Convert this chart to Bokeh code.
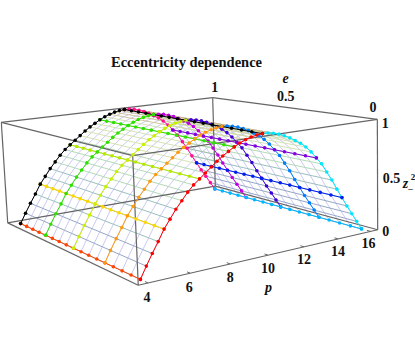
import numpy as np
from bokeh.plotting import figure
from bokeh.models import Range1d
from bokeh.core.properties import value
from bokeh.embed import file_html
from bokeh.resources import INLINE

title = "Eccentricity dependence"
p_ticks = [4, 6, 8, 10, 12, 14, 16]
e_ticks = [1, 0.5, 0]
e_tick_labels = ["1", "0.5", "0"]
z_ticks = [1, 0.5, 0]
z_tick_labels = ["1", "0.5", "0"]

# surface height read along p (41 samples from p=4 to p=16), nearly independent of e
p_samples = [4 + 0.3 * k for k in range(41)]
e_samples = [k / 16 for k in range(17)]
z_profile = [0, .095, .185, .27, .36, .43, .50, .56, .62, .67, .71, .75, .79, .83, .865, .895, .925, .95, .97, .985, .995, 1,
             .998, .99, .975, .955, .93, .90, .87, .83, .78, .72, .66, .58, .50, .41, .325, .24, .16, .08, 0]

p_line_values = [4, 5.2, 7, 8.8, 10.3, 13.3, 14.8, 16]
p_line_colors = ["#ff4500", "#ffd700", "#b4ea00", "#30e000", "#000000", "#8000e0", "#0020f0", "#00b8ff"]
e_line_values = [0, 0.25, 0.5, 0.75, 1]
e_near_colors = ["#ff0000", "#ff9a10", "#c8f000", "#30e000", "#000000"]
e_far_colors = ["#00e8ff", "#0080ff", "#4000d8", "#c000e0", "#ff1090"]
peak_p = 10.3

# perspective camera: box bounds and where the eight corners land on the page
p_box = (3.55, 16.45)
e_box = (-0.05, 1.05)
z_box = (0, 1)
box_world = [(0, 0, 0), (1, 0, 0), (0, 1, 0), (1, 1, 0), (0, 0, 1), (1, 0, 1), (0, 1, 1), (1, 1, 1)]
box_page = [(138, 285), (377, 229), (7, 222), (215, 186), (132, 155), (377, 119), (1, 122), (212, 97)]


def camera():
    rows = []
    for (a, b, c), (u, v) in zip(box_world, box_page):
        X = [p_box[a], e_box[b], z_box[c], 1]
        rows.append(X + [0, 0, 0, 0] + [-u * x for x in X])
        rows.append([0, 0, 0, 0] + X + [-v * x for x in X])
    return np.linalg.svd(np.array(rows, float))[2][-1].reshape(3, 4)


CAM = camera()


def project(ps, es, zs):
    q = CAM @ np.vstack([ps, es, zs, np.ones(len(ps))])
    return (q[0] / q[2]).tolist(), (q[1] / q[2]).tolist()


p_arr = np.array(p_samples)
e_arr = np.array(e_samples)
z_arr = np.array(z_profile, float)

fig = figure(width=415, height=357, x_range=Range1d(0, 415), y_range=Range1d(357, 0),
             toolbar_location=None, output_backend="svg", min_border=0)
fig.axis.visible = False
fig.grid.visible = False
fig.outline_line_color = None
fig.background_fill_color = "white"

# mesh
mesh_heights = [0.25, 0.5, 0.75, 0.95, 2]
mesh_colors = ["#8a9cc0", "#8fb7b8", "#a9d6ae", "#cfe0a8", "#cdbf90"]
xs, ys, cs = [], [], []
for e in e_arr:
    x, y = project(p_arr, np.full(41, e), z_arr)
    xs.append(x); ys.append(y); cs.append("#c4c4f2")
fig.multi_line(xs, ys, line_color=cs, line_width=0.9)
xs, ys, cs = [], [], []
for i, pv in enumerate(p_arr):
    x, y = project(np.full(17, pv), e_arr, np.full(17, z_arr[i]))
    xs.append(x); ys.append(y)
    cs.append(mesh_colors[next(j for j, h in enumerate(mesh_heights) if z_arr[i] <= h)])
fig.multi_line(xs, ys, line_color=cs, line_width=0.9)

# box
edges = [(0, 1), (0, 2), (1, 3), (2, 3), (4, 5), (4, 6), (5, 7), (6, 7), (0, 4), (1, 5), (2, 6), (3, 7)]
for a, b in edges:
    wa, wb = box_world[a], box_world[b]
    x, y = project(np.array([p_box[wa[0]], p_box[wb[0]]]), np.array([e_box[wa[1]], e_box[wb[1]]]),
                   np.array([z_box[wa[2]], z_box[wb[2]]]))
    fig.line(x, y, line_color="#666666", line_width=1.2)

# axis ticks
for t in p_ticks:
    x, y = project(np.array([t, t]), np.array([e_box[0], e_box[0] + 0.02]), np.array([z_box[0], z_box[0]]))
    fig.line(x, y, line_color="#666666", line_width=1)


def curve(ps, es, zs, color, lw=1.0, size=3.6):
    x, y = project(np.array(ps), np.array(es), np.array(zs))
    fig.line(x, y, line_color=color, line_width=lw)
    fig.scatter(x, y, size=size, fill_color=color, line_color=None)


# far halves of constant e curves
for ev, col in zip(e_line_values[::-1], e_far_colors[::-1]):
    m = p_arr >= peak_p - 1e-9
    curve(p_arr[m], np.full(m.sum(), ev), z_arr[m], col)
# constant p curves
for pv, col in list(zip(p_line_values, p_line_colors))[::-1]:
    i = int(np.argmin(abs(p_arr - pv)))
    curve(np.full(17, pv), e_arr, np.full(17, z_arr[i]), col)
# near halves
for ev, col in zip(e_line_values[::-1], e_near_colors[::-1]):
    m = p_arr <= peak_p + 1e-9
    curve(p_arr[m], np.full(m.sum(), ev), z_arr[m], col)

serif = value("Liberation Serif")


def label(xs, ys, texts, size="14px", style="bold", align="center"):
    fig.text(xs, ys, text=texts, text_font=serif, text_font_size=value(size), text_font_style=style,
             text_align=align, text_baseline="middle", text_color="#111111")


label([186], [61], [title], size="14.5px")

px, py = project(np.array(p_ticks, float), np.full(7, e_box[0]), np.full(7, z_box[0]))
label([x + d for x, d in zip(px, [-1, -1, 0, 0, 0, 0, -2])], [y + d for y, d in zip(py, [14, 14, 13, 13, 12, 12, 12])],
      [str(t) for t in p_ticks])
ex, ey = project(np.full(3, p_box[1]), np.array(e_ticks, float), np.full(3, z_box[1]))
label([x + d for x, d in zip(ex, [-4, 0, 5])], [y - 11 for y in ey], e_tick_labels)
zx, zy = project(np.full(3, p_box[1]), np.full(3, e_box[0]), np.array(z_ticks, float))
label([x + 8 if t != "0.5" else x + 14 for x, t in zip(zx, z_tick_labels)], [y + d for y, d in zip(zy, [4, 3, 1])], z_tick_labels)

label([285], [77], ["e"], style="bold italic")
label([268], [287], ["p"], style="bold italic")
label([405], [183], ["z"], style="bold italic")
label([412.5], [176], ["2"], size="9px")
label([410], [187], ["\u2013"], size="9px")

open("out.html", "w").write(file_html(fig, INLINE))
